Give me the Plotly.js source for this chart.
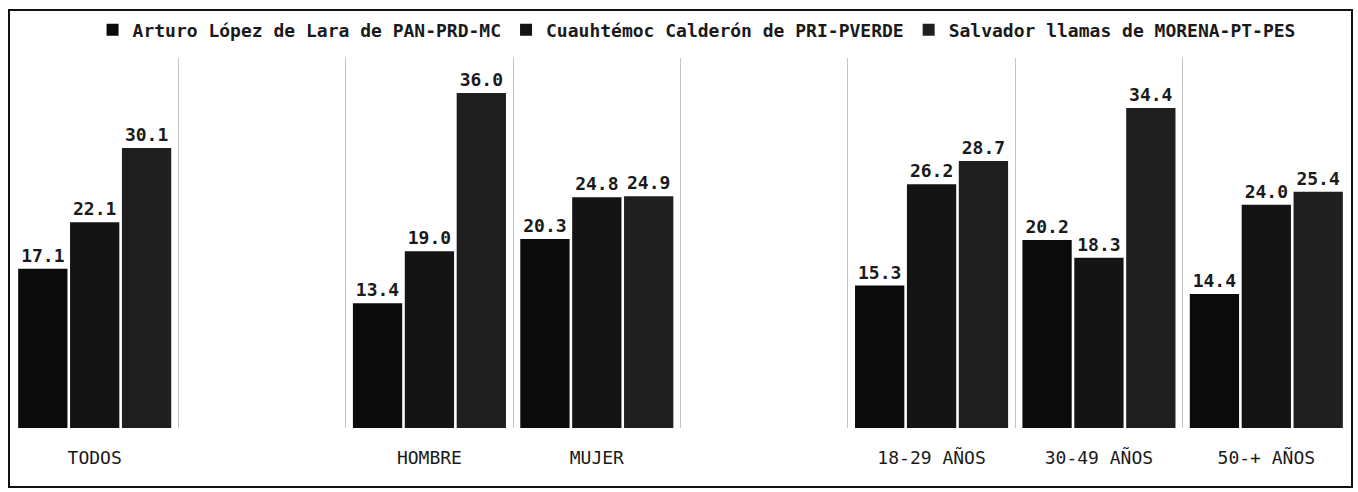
<!DOCTYPE html>
<html>
<head>
<meta charset="utf-8">
<script src="https://cdn.plot.ly/plotly-3.0.1.min.js"></script>
<style>
  html, body { margin: 0; padding: 0; background: #ffffff; }
  #chart { width: 1358px; height: 492px; }
</style>
</head>
<body>
<div id="chart"></div>
<script>
// Categories (blank slots are empty groups in the original chart)
const categories = ['TODOS', ' ', 'HOMBRE', 'MUJER', '  ', '18-29 AÑOS', '30-49 AÑOS', '50-+ AÑOS'];

// Series names
const seriesNames = [
  'Arturo López de Lara de PAN-PRD-MC',
  'Cuauhtémoc Calderón de PRI-PVERDE',
  'Salvador llamas de MORENA-PT-PES'
];

// Series values (%)
const lopezLara   = [17.1, null, 13.4, 20.3, null, 15.3, 20.2, 14.4];
const calderon    = [22.1, null, 19.0, 24.8, null, 26.2, 18.3, 24.0];
const llamas      = [30.1, null, 36.0, 24.9, null, 28.7, 34.4, 25.4];

const seriesValues = [lopezLara, calderon, llamas];
const seriesColors = ['#0b0b0b', '#141414', '#1f1f1f'];

const traces = seriesValues.map((vals, i) => ({
  type: 'bar',
  name: seriesNames[i],
  x: categories,
  y: vals,
  marker: { color: seriesColors[i] },
  text: vals.map(v => v === null ? '' : v.toFixed(1)),
  textposition: 'outside',
  cliponaxis: false,
  textfont: { family: 'DejaVu Sans Mono', size: 18, color: '#1a1a1a', weight: 'bold' },
  hoverinfo: 'x+y+name'
}));

const plotL = 11, plotR = 8, plotT = 58, plotB = 64;
const W = 1358, H = 492;
const pw = W - plotL - plotR, ph = H - plotT - plotB;

const layout = {
  width: W,
  height: H,
  margin: { l: plotL, r: plotR, t: plotT, b: plotB, pad: 0 },
  paper_bgcolor: '#ffffff',
  plot_bgcolor: '#ffffff',
  barmode: 'group',
  bargap: 0.07,
  bargroupgap: 0.05,
  font: { family: 'DejaVu Sans Mono', color: '#1a1a1a' },
  showlegend: true,
  legend: {
    orientation: 'h',
    x: 0.512,
    xanchor: 'center',
    y: 1 + (plotT - 30) / ph,
    yanchor: 'middle',
    font: { family: 'DejaVu Sans Mono', size: 18, color: '#1a1a1a', weight: 'bold' },
    itemwidth: 30,
    tracegroupgap: 0,
    bgcolor: 'rgba(0,0,0,0)'
  },
  xaxis: {
    type: 'category',
    tickson: 'boundaries',
    showgrid: true,
    gridcolor: '#c4c4c4',
    gridwidth: 1,
    ticks: '',
    showline: false,
    zeroline: false,
    tickfont: { family: 'DejaVu Sans Mono', size: 18, color: '#1a1a1a' },
    ticklabelstandoff: 17,
    fixedrange: true
  },
  yaxis: {
    range: [0, 39.76],
    showgrid: false,
    zeroline: false,
    showticklabels: false,
    ticks: '',
    showline: false,
    fixedrange: true
  },
  shapes: [
    {
      type: 'rect',
      xref: 'paper', yref: 'paper',
      x0: (9 - plotL) / pw,
      x1: (1352 - plotL) / pw,
      y0: -((487 - (plotT + ph)) / ph),
      y1: 1 + (plotT - 10) / ph,
      line: { color: '#111111', width: 2 },
      fillcolor: 'rgba(0,0,0,0)',
      layer: 'above'
    }
  ]
};

Plotly.newPlot('chart', traces, layout, { displayModeBar: false, staticPlot: true });
</script>
</body>
</html>
